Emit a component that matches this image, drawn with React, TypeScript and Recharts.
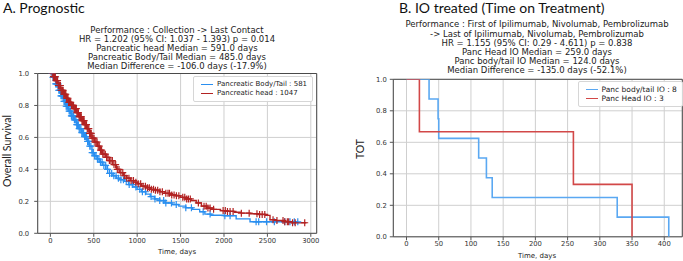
import {
  CartesianGrid,
  ComposedChart,
  Line,
  ReferenceArea,
  Scatter,
  XAxis,
  YAxis,
} from "recharts";

// --- A. Prognostic (Kaplan-Meier) ---
const headTimes = [0, 30, 60, 90, 120, 150, 180, 210, 240, 270, 300, 330, 360, 390, 420, 450, 480, 510, 540, 570, 600, 640, 680, 720, 760, 800, 840, 880, 920, 960, 1000, 1050, 1100, 1150, 1200, 1260, 1320, 1380, 1440, 1500, 1560, 1620, 1680, 1740, 1800, 1880, 1960, 2040, 2120, 2200, 2300, 2400, 2480, 2530, 2600, 2700, 2780, 2950];
const headSurv = [1.0, 0.98, 0.955, 0.925, 0.895, 0.87, 0.845, 0.82, 0.8, 0.78, 0.755, 0.73, 0.705, 0.68, 0.655, 0.625, 0.595, 0.57, 0.545, 0.52, 0.495, 0.475, 0.455, 0.43, 0.4, 0.38, 0.36, 0.345, 0.33, 0.32, 0.31, 0.295, 0.285, 0.275, 0.27, 0.26, 0.25, 0.24, 0.235, 0.225, 0.215, 0.205, 0.19, 0.17, 0.158, 0.15, 0.142, 0.137, 0.132, 0.126, 0.122, 0.118, 0.112, 0.085, 0.08, 0.073, 0.066, 0.066];

const tailTimes = [0, 30, 60, 90, 120, 150, 180, 210, 240, 270, 300, 330, 360, 390, 420, 450, 480, 510, 540, 570, 600, 640, 680, 720, 760, 800, 850, 900, 950, 1000, 1050, 1100, 1150, 1200, 1260, 1320, 1400, 1480, 1560, 1640, 1720, 1780, 1850, 2000, 2140, 2300, 2850];
const tailSurv = [1.0, 0.975, 0.935, 0.895, 0.86, 0.825, 0.795, 0.765, 0.735, 0.71, 0.68, 0.655, 0.63, 0.605, 0.575, 0.545, 0.505, 0.485, 0.465, 0.445, 0.425, 0.4, 0.375, 0.36, 0.345, 0.335, 0.325, 0.305, 0.29, 0.275, 0.26, 0.245, 0.23, 0.215, 0.205, 0.19, 0.18, 0.17, 0.16, 0.15, 0.135, 0.12, 0.113, 0.11, 0.09, 0.072, 0.072];

const headCensor = [22, 35, 48, 57, 66, 74, 83, 91, 99, 108, 116, 123, 131, 140, 147, 155, 163, 171, 178, 186, 195, 203, 211, 219, 226, 234, 243, 251, 258, 266, 275, 283, 291, 299, 306, 315, 323, 331, 339, 347, 356, 364, 372, 381, 389, 398, 407, 416, 425, 434, 443, 452, 462, 471, 481, 492, 503, 514, 526, 538, 551, 563, 577, 590, 604, 618, 633, 648, 663, 680, 697, 714, 733, 752, 771, 790, 812, 834, 856, 880, 905, 930, 957, 985, 1012, 1040, 1068, 1095, 1118, 1140, 1163, 1188, 1210, 1236, 1262, 1290, 1330, 1355, 1372, 1398, 1425, 1452, 1480, 1525, 1548, 1570, 1590, 1612, 1705, 1770, 1795, 1815, 1840, 1880, 1990, 2015, 2040, 2070, 2105, 2200, 2290, 2380, 2410, 2440, 2470, 2565, 2610, 2680, 2700, 2730, 2745, 2790, 2820, 2930];
const tailCensor = [18, 30, 41, 52, 61, 70, 79, 88, 97, 106, 114, 122, 131, 139, 148, 157, 165, 173, 182, 190, 198, 207, 216, 224, 233, 242, 250, 259, 268, 277, 286, 295, 304, 313, 322, 332, 342, 352, 362, 372, 383, 394, 405, 417, 429, 441, 454, 467, 481, 495, 510, 526, 542, 559, 577, 596, 616, 637, 659, 682, 706, 731, 757, 784, 812, 842, 874, 908, 944, 985, 1030, 1060, 1095, 1160, 1205, 1260, 1305, 1330, 1395, 1450, 1560, 1625, 1760, 1840, 2010, 2070, 2370, 2400, 2490, 2580, 2700, 2760, 2810, 2850];

// --- B. IO treated ---
const ioTailTimes = [0, 35, 49, 50, 112, 124, 133, 327, 407];
const ioTailSurv = [1, 0.875, 0.75, 0.625, 0.5, 0.375, 0.25, 0.125, 0];
const ioHeadTimes = [0, 20, 259, 350];
const ioHeadSurv = [1, 0.667, 0.333, 0];

const kmTicks = [0, 500, 1000, 1500, 2000, 2500, 3000];
const ioTicks = [0, 50, 100, 150, 200, 250, 300, 350, 400];
const survTicks = [0, 0.2, 0.4, 0.6, 0.8, 1.0];

const kmTitle = [
  "Performance : Collection -> Last Contact",
  "HR = 1.202 (95% CI: 1.037 - 1.393) p = 0.014",
  "Pancreatic head Median = 591.0 days",
  "Pancreatic Body/Tail Median = 485.0 days",
  "Median Difference = -106.0 days (-17.9%)",
];
const ioTitle = [
  "Performance : First of Ipilimumab, Nivolumab, Pembrolizumab",
  "-> Last of Ipilimumab, Nivolumab, Pembrolizumab",
  "HR = 1.155 (95% CI: 0.29 - 4.611) p = 0.838",
  "Panc Head IO Median = 259.0 days",
  "Panc body/tail IO Median = 124.0 days",
  "Median Difference = -135.0 days (-52.1%)",
];

const BLUE = "#2a8ff0";
const RED = "#b22222";
const IO_BLUE = "#5aa8f2";
const IO_RED = "#d24848";
const MPL = "'DejaVu Sans', sans-serif";
const CAL = "Lato, 'Open Sans', sans-serif";

const toPoints = (times: number[], surv: number[]) =>
  times.map((t, i) => ({ t, s: surv[i] }));

const stepAt = (times: number[], surv: number[], t: number) => {
  let v = surv[0];
  for (let i = 0; i < times.length; i++) if (times[i] <= t) v = surv[i];
  return v;
};

const censorPoints = (cs: number[], times: number[], surv: number[]) =>
  cs.map((t) => ({ t, s: stepAt(times, surv, t) }));

const plusShape = (color: string) => (p: any) => {
  const { cx, cy } = p;
  if (cx == null || cy == null) return <g />;
  return (
    <path
      d={`M${cx - 3.5},${cy}h7M${cx},${cy - 3.5}v7`}
      stroke={color}
      strokeWidth={1.2}
      fill="none"
    />
  );
};

const tickStyle = { fontSize: 6.8, fill: "#333", fontFamily: MPL };

function Txt({ x, y, children, size, font = MPL, rotate = 0, color = "#222" }: any) {
  return (
    <div
      style={{
        position: "absolute",
        left: x,
        top: y,
        transform: `translate(-50%, -50%) rotate(${rotate}deg)`,
        fontSize: size,
        fontFamily: font,
        color,
        whiteSpace: "nowrap",
        lineHeight: 1,
      }}
    >
      {children}
    </div>
  );
}

function Subtitle({ lines, cx, top, lh }: { lines: string[]; cx: number; top: number; lh: number }) {
  return (
    <div
      style={{
        position: "absolute",
        left: cx,
        top,
        transform: "translateX(-50%)",
        fontFamily: MPL,
        fontSize: 8.5,
        lineHeight: `${lh}px`,
        color: "#222",
        textAlign: "center",
        whiteSpace: "nowrap",
      }}
    >
      {lines.map((l) => (
        <div key={l}>{l}</div>
      ))}
    </div>
  );
}

function LegendBox({ items, left, top, width, lineLen, size }: any) {
  return (
    <div
      style={{
        position: "absolute",
        left,
        top,
        width,
        background: "rgba(255,255,255,0.9)",
        border: "1px solid #d6d6d6",
        borderRadius: 2,
        padding: "3px 0 3px 7px",
        boxSizing: "border-box",
        fontFamily: MPL,
        fontSize: size,
        color: "#222",
      }}
    >
      {items.map((it: any) => (
        <div key={it.name} style={{ display: "flex", alignItems: "center", height: 9 }}>
          <span style={{ display: "inline-block", width: lineLen, height: 0, borderTop: `1.5px solid ${it.color}`, marginRight: 4 }} />
          <span>{it.name}</span>
        </div>
      ))}
    </div>
  );
}

export default function App() {
  const head = toPoints(headTimes, headSurv);
  const tail = toPoints(tailTimes, tailSurv);
  const headMarks = censorPoints(headCensor, headTimes, headSurv);
  const tailMarks = censorPoints(tailCensor, tailTimes, tailSurv);
  const ioTail = toPoints(ioTailTimes, ioTailSurv);
  const ioHead = toPoints(ioHeadTimes, ioHeadSurv);

  return (
    <div style={{ position: "absolute", left: 0, top: 0, width: 683, height: 261, background: "#fff", overflow: "hidden" }}>
      <div style={{ position: "absolute", left: 0, top: 0 }}>
        <ComposedChart width={330} height={261} margin={{ top: 73.5, right: 13.3, bottom: 7.7, left: 7.7 }}>
          <CartesianGrid stroke="#cfcfcf" />
          <XAxis
            dataKey="t"
            type="number"
            domain={[-146, 3068]}
            ticks={kmTicks}
            allowDataOverflow
            height={20}
            tick={tickStyle}
            tickSize={3.5}
            tickMargin={1}
            axisLine={false}
            tickLine={{ stroke: "#555" }}
          />
          <YAxis
            dataKey="s"
            type="number"
            domain={[0, 1]}
            ticks={survTicks}
            allowDataOverflow
            width={30}
            tick={tickStyle}
            tickFormatter={(v: number) => v.toFixed(1)}
            tickSize={3.5}
            tickMargin={5}
            axisLine={false}
            tickLine={{ stroke: "#555" }}
          />
          <Line data={tail} dataKey="s" type="stepAfter" stroke={BLUE} strokeWidth={1.4} dot={false} isAnimationActive={false} />
          <Scatter data={tailMarks} dataKey="s" shape={plusShape(BLUE)} legendType="none" isAnimationActive={false} />
          <Line data={head} dataKey="s" type="stepAfter" stroke={RED} strokeWidth={1.4} dot={false} isAnimationActive={false} />
          <Scatter data={headMarks} dataKey="s" shape={plusShape(RED)} legendType="none" isAnimationActive={false} />
          <ReferenceArea x1={-146} x2={3068} y1={0} y2={1} fill="none" stroke="#4a4a4a" strokeWidth={1} />
        </ComposedChart>
      </div>

      <div style={{ position: "absolute", left: 340, top: 0 }}>
        <ComposedChart width={343} height={261} margin={{ top: 79.3, right: 0.7, bottom: 4.2, left: 23.3 }}>
          <CartesianGrid stroke="#cfcfcf" />
          <XAxis
            dataKey="t"
            type="number"
            domain={[-20.5, 428]}
            ticks={ioTicks}
            allowDataOverflow
            height={20}
            tick={tickStyle}
            tickSize={3.5}
            tickMargin={1}
            axisLine={false}
            tickLine={{ stroke: "#555" }}
          />
          <YAxis
            dataKey="s"
            type="number"
            domain={[0, 1]}
            ticks={survTicks}
            allowDataOverflow
            width={30}
            tick={tickStyle}
            tickFormatter={(v: number) => v.toFixed(1)}
            tickSize={3.5}
            tickMargin={3}
            axisLine={false}
            tickLine={{ stroke: "#555" }}
          />
          <Line data={ioTail} dataKey="s" type="stepAfter" stroke={IO_BLUE} strokeWidth={1.6} dot={false} isAnimationActive={false} />
          <Line data={ioHead} dataKey="s" type="stepAfter" stroke={IO_RED} strokeWidth={1.6} dot={false} isAnimationActive={false} />
          <ReferenceArea x1={-20.5} x2={428} y1={0} y2={1} fill="none" stroke="#4a4a4a" strokeWidth={1} />
        </ComposedChart>
      </div>

      <div style={{ position: "absolute", left: 3, top: 0, fontFamily: CAL, fontSize: 14, lineHeight: "15px", color: "#111", whiteSpace: "nowrap" }}>
        A. Prognostic
      </div>
      <div style={{ position: "absolute", left: 399, top: 0, fontFamily: CAL, fontSize: 14, lineHeight: "15px", color: "#111", whiteSpace: "nowrap" }}>
        B. IO treated (Time on Treatment)
      </div>

      <Subtitle lines={kmTitle} cx={177} top={26.3} lh={8.85} />
      <Subtitle lines={ioTitle} cx={537} top={20.4} lh={9.2} />

      <Txt x={7} y={151} size={10.5} font={CAL} rotate={-90}>Overall Survival</Txt>
      <Txt x={360} y={149} size={10.5} font={CAL} rotate={-90}>TOT</Txt>
      <Txt x={177} y={251.7} size={7}>Time, days</Txt>
      <Txt x={537} y={255.7} size={7}>Time, days</Txt>

      <LegendBox
        left={193}
        top={75.5}
        width={120}
        lineLen={12}
        size={7}
        items={[
          { name: "Pancreatic Body/Tail : 581", color: BLUE },
          { name: "Pancreatic head : 1047", color: RED },
        ]}
      />
      <LegendBox
        left={577.5}
        top={80.5}
        width={105}
        lineLen={12}
        size={7.5}
        items={[
          { name: "Panc body/tail IO : 8", color: IO_BLUE },
          { name: "Panc Head IO : 3", color: IO_RED },
        ]}
      />
    </div>
  );
}
